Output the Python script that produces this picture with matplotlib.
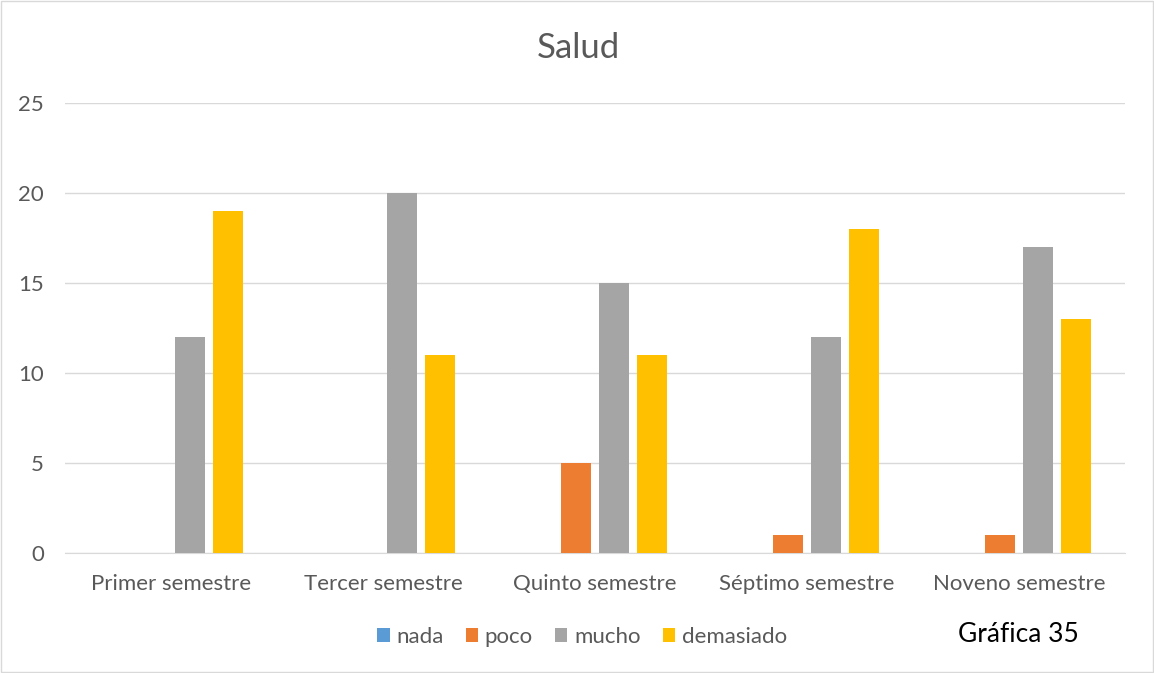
import numpy as np
import matplotlib
matplotlib.use('Agg')
matplotlib.rc('font', family=['Lato', 'DejaVu Sans'])
import matplotlib.pyplot as plt
from matplotlib.patches import Rectangle

categories = ['Primer semestre', 'Tercer semestre', 'Quinto semestre',
              'Séptimo semestre', 'Noveno semestre']
series_names = ['nada', 'poco', 'mucho', 'demasiado']
nada = [0, 0, 0, 0, 0]
poco = [0, 0, 5, 1, 1]
mucho = [12, 20, 15, 12, 17]
demasiado = [19, 11, 11, 18, 13]
colors = ['#5B9BD5', '#ED7D31', '#A5A5A5', '#FFC000']
text_color = '#595959'


def main():
    fig = plt.figure(figsize=(11.54, 6.73), dpi=100)
    ax = fig.add_axes([65 / 1154, 1 - 553 / 673, 1060 / 1154, 450 / 673])

    x = np.arange(len(categories))
    width = 30 / 212
    step = 38 / 212
    for i, (name, vals) in enumerate(zip(series_names, [nada, poco, mucho, demasiado])):
        ax.bar(x + (i - 1.5) * step, vals, width=width, color=colors[i],
               label=name, zorder=3)

    ax.set_xlim(-0.5, len(categories) - 0.5)
    ax.set_ylim(0, 25)
    ax.set_yticks(range(0, 26, 5))
    ax.set_xticks(x)
    ax.set_xticklabels(categories)
    ax.tick_params(axis='both', length=0, labelsize=16, colors=text_color)
    ax.tick_params(axis='x', pad=15)
    ax.tick_params(axis='y', pad=15)
    ax.grid(axis='y', color='#D9D9D9', linewidth=1, zorder=0)
    for s in ['top', 'right', 'left']:
        ax.spines[s].set_visible(False)
    ax.spines['bottom'].set_color('#D9D9D9')

    fig.text(578 / 1154, 1 - 48 / 673, 'Salud', ha='center', va='center',
             fontsize=25, color=text_color)

    leg = fig.legend(loc='center', bbox_to_anchor=(582 / 1154, 1 - 637 / 673),
                     ncol=4, frameon=False, fontsize=16, handlelength=0.55,
                     handleheight=0.55, handletextpad=0.3, columnspacing=1.0)
    for t in leg.get_texts():
        t.set_color(text_color)

    fig.text(1018 / 1154, 1 - 634 / 673, 'Gráfica 35', ha='center', va='center',
             fontsize=19, color='black')

    fig.patches.append(Rectangle((0.001, 0.001), 0.998, 0.998, transform=fig.transFigure,
                                 fill=False, edgecolor='#D9D9D9', linewidth=1))

    fig.savefig('out.png', dpi=100)


if __name__ == '__main__':
    main()
